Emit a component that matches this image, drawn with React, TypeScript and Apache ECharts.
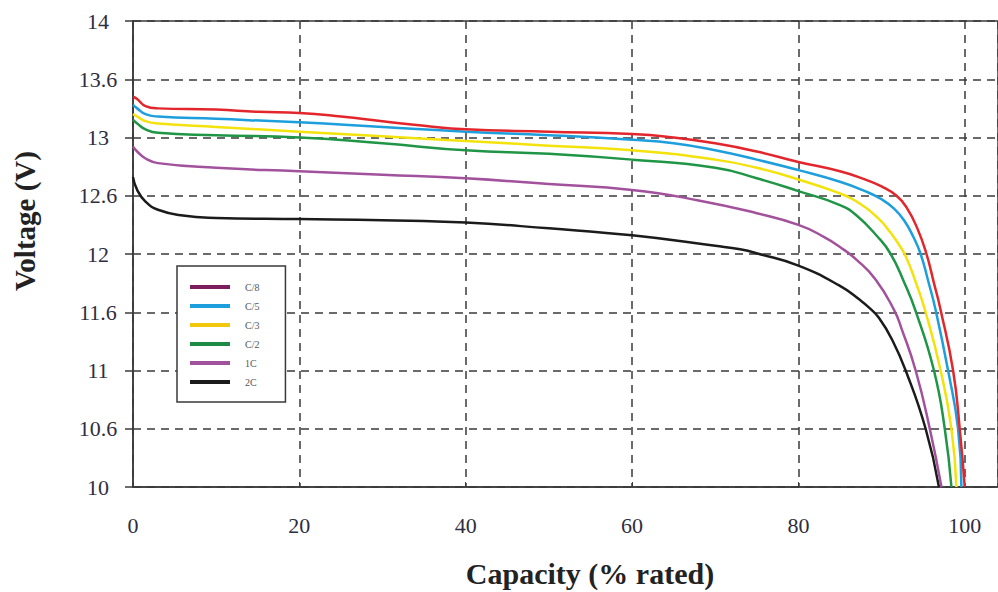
import React, { useEffect, useRef } from "react";
import * as echarts from "echarts";

const seriesNames = ["C/8", "C/5", "C/3", "C/2", "1C", "2C"];
const seriesColors = ["#e3262b", "#1c9fdc", "#f4e20c", "#1f9546", "#a2519c", "#1b1b1b"];
const legendColors = ["#7b1d5e", "#1c9fdc", "#f2c80c", "#1f8a46", "#a2519c", "#1b1b1b"];

const yTickLabels = ["10", "10.6", "11", "11.6", "12", "12.6", "13", "13.6", "14"];
const xTickLabels = ["0", "20", "40", "60", "80", "100"];

const c8: [number, number][] = [
  [0, 13.35], [0.5, 13.33], [1.5, 13.27], [3, 13.25], [10, 13.24], [15, 13.22], [20, 13.21],
  [25, 13.18], [30, 13.14], [35, 13.1], [40, 13.07], [50, 13.05], [60, 13.03], [65, 13.0],
  [70, 12.95], [75, 12.88], [80, 12.79], [85, 12.71], [88, 12.64], [90, 12.58], [91.8, 12.5],
  [93, 12.4], [94.3, 12.22], [95.4, 12.0], [96.3, 11.75], [97.1, 11.52], [98.6, 11.0],
  [99.4, 10.5], [100, 10.0],
];
const c5: [number, number][] = [
  [0, 13.28], [0.5, 13.25], [1.5, 13.2], [3, 13.18], [10, 13.16], [20, 13.13], [30, 13.09],
  [40, 13.05], [50, 13.02], [60, 12.98], [65, 12.95], [70, 12.89], [75, 12.81], [80, 12.72],
  [85, 12.62], [88, 12.54], [90, 12.47], [91.5, 12.39], [92.7, 12.29], [93.8, 12.15],
  [94.7, 12.0], [95.6, 11.77], [96.5, 11.52], [98, 11.0], [99.2, 10.5], [99.6, 10.0],
];
const c3: [number, number][] = [
  [0, 13.2], [0.5, 13.18], [1.5, 13.14], [3, 13.12], [10, 13.09], [20, 13.05], [30, 13.01],
  [40, 12.97], [50, 12.93], [60, 12.89], [70, 12.81], [75, 12.74], [80, 12.64], [85, 12.52],
  [87, 12.45], [89.7, 12.3], [91, 12.19], [92, 12.09], [92.9, 11.98], [94.1, 11.76],
  [95.3, 11.5], [97.1, 11.0], [98.4, 10.5], [99, 10.0],
];
const c2: [number, number][] = [
  [0, 13.15], [0.5, 13.12], [1.5, 13.07], [3, 13.04], [10, 13.02], [20, 13.0], [30, 12.95],
  [40, 12.89], [50, 12.86], [60, 12.81], [70, 12.74], [75, 12.65], [80, 12.54], [85, 12.42],
  [87, 12.33], [89.5, 12.15], [91.1, 12.0], [92.7, 11.76], [94.1, 11.51], [96.3, 11.0],
  [97.6, 10.5], [98.4, 10.0],
];
const c1: [number, number][] = [
  [0, 12.92], [0.5, 12.88], [1.5, 12.82], [3, 12.78], [10, 12.74], [20, 12.71], [30, 12.68],
  [40, 12.65], [50, 12.6], [60, 12.55], [68, 12.46], [75, 12.35], [80, 12.25], [83, 12.15],
  [85, 12.06], [87, 11.95], [89.3, 11.78], [91.5, 11.52], [92.4, 11.36], [94.1, 11.0],
  [95.8, 10.5], [97.2, 10.0],
];
const c2x: [number, number][] = [
  [0, 12.66], [0.5, 12.55], [1.5, 12.45], [3, 12.38], [6, 12.33], [10, 12.31], [20, 12.3],
  [30, 12.29], [40, 12.27], [50, 12.22], [60, 12.16], [70, 12.07], [73, 12.04], [75.3, 12.0],
  [80, 11.9], [84.9, 11.73], [87.5, 11.6], [88.5, 11.54], [89.7, 11.45], [91.3, 11.26],
  [92.9, 11.0], [95.3, 10.5], [96.9, 10.0],
];
const seriesData = [c8, c5, c3, c2, c1, c2x];

export default function App() {
  const ref = useRef<HTMLDivElement>(null);
  useEffect(() => {
    if (!ref.current) return;
    const chart = echarts.init(ref.current, undefined, { renderer: "svg" });
    const serif = "'Liberation Serif', 'DejaVu Serif', serif";
    chart.setOption({
      animation: false,
      backgroundColor: "#ffffff",
      grid: {
        left: 133, top: 21, right: 0, bottom: 105, containLabel: false,
        show: true, borderColor: "#3a3a3a", borderWidth: 1.5, backgroundColor: "transparent",
      },
      xAxis: {
        type: "value",
        min: 0,
        max: 104,
        interval: 20,
        axisLine: { show: true, lineStyle: { color: "#3a3a3a", width: 1.5 } },
        axisTick: { show: true, inside: true, length: 5, lineStyle: { color: "#3a3a3a" } },
        axisLabel: {
          margin: 27,
          color: "#2e2e40",
          fontFamily: serif,
          fontSize: 22,
          showMaxLabel: false,
          formatter: (v: number) => {
            const i = Math.round(v / 20);
            return Math.abs(v - i * 20) < 1e-6 && xTickLabels[i] !== undefined ? xTickLabels[i] : "";
          },
        },
        splitLine: {
          show: true,
          lineStyle: { type: [8, 6], color: "#3a3a3a", width: 1.5 },
        },
      },
      yAxis: {
        type: "value",
        min: 10,
        max: 14,
        interval: 0.5,
        axisLine: { show: true, lineStyle: { color: "#3a3a3a", width: 1.5 } },
        axisTick: { show: true, inside: false, length: 8, lineStyle: { color: "#3a3a3a", width: 1.5 } },
        axisLabel: {
          margin: 35,
          align: "center",
          color: "#2e2e40",
          fontFamily: serif,
          fontSize: 22,
          formatter: (v: number) => {
            const i = Math.round((v - 10) / 0.5);
            return yTickLabels[i] ?? "";
          },
        },
        splitLine: {
          show: true,
          lineStyle: { type: [8, 6], color: "#3a3a3a", width: 1.5 },
        },
      },
      legend: {
        orient: "vertical",
        left: 177,
        top: 266,
        backgroundColor: "#ffffff",
        borderColor: "#3a3a3a",
        borderWidth: 1.5,
        padding: [16, 26, 15, 13],
        itemGap: 9,
        itemWidth: 40,
        itemHeight: 4,
        icon: "rect",
        textStyle: { fontFamily: serif, fontSize: 10, color: "#555", padding: [0, 0, 0, 10] },
        data: seriesNames.map((n, i) => ({ name: n, itemStyle: { color: legendColors[i] } })),
      },
      graphic: [
        {
          type: "text",
          x: 25,
          y: 221,
          rotation: Math.PI / 2,
          style: {
            text: "Voltage (V)",
            font: "bold 29px 'Liberation Serif', serif",
            fill: "#222",
            textAlign: "center",
            textVerticalAlign: "middle",
          },
        },
        {
          type: "text",
          x: 590,
          y: 573,
          style: {
            text: "Capacity (% rated)",
            font: "bold 30px 'Liberation Serif', serif",
            fill: "#222",
            textAlign: "center",
            textVerticalAlign: "middle",
          },
        },
      ],
      series: seriesNames.map((n, i) => ({
        name: n,
        type: "line",
        data: seriesData[i],
        showSymbol: false,
        symbol: "none",
        smooth: 0.5,
        lineStyle: { color: seriesColors[i], width: 2.5 },
        itemStyle: { color: seriesColors[i] },
        z: 10 - i,
      })),
    });
    return () => chart.dispose();
  }, []);
  return <div ref={ref} style={{ width: 998, height: 592, position: "absolute", left: 0, top: 0 }} />;
}
